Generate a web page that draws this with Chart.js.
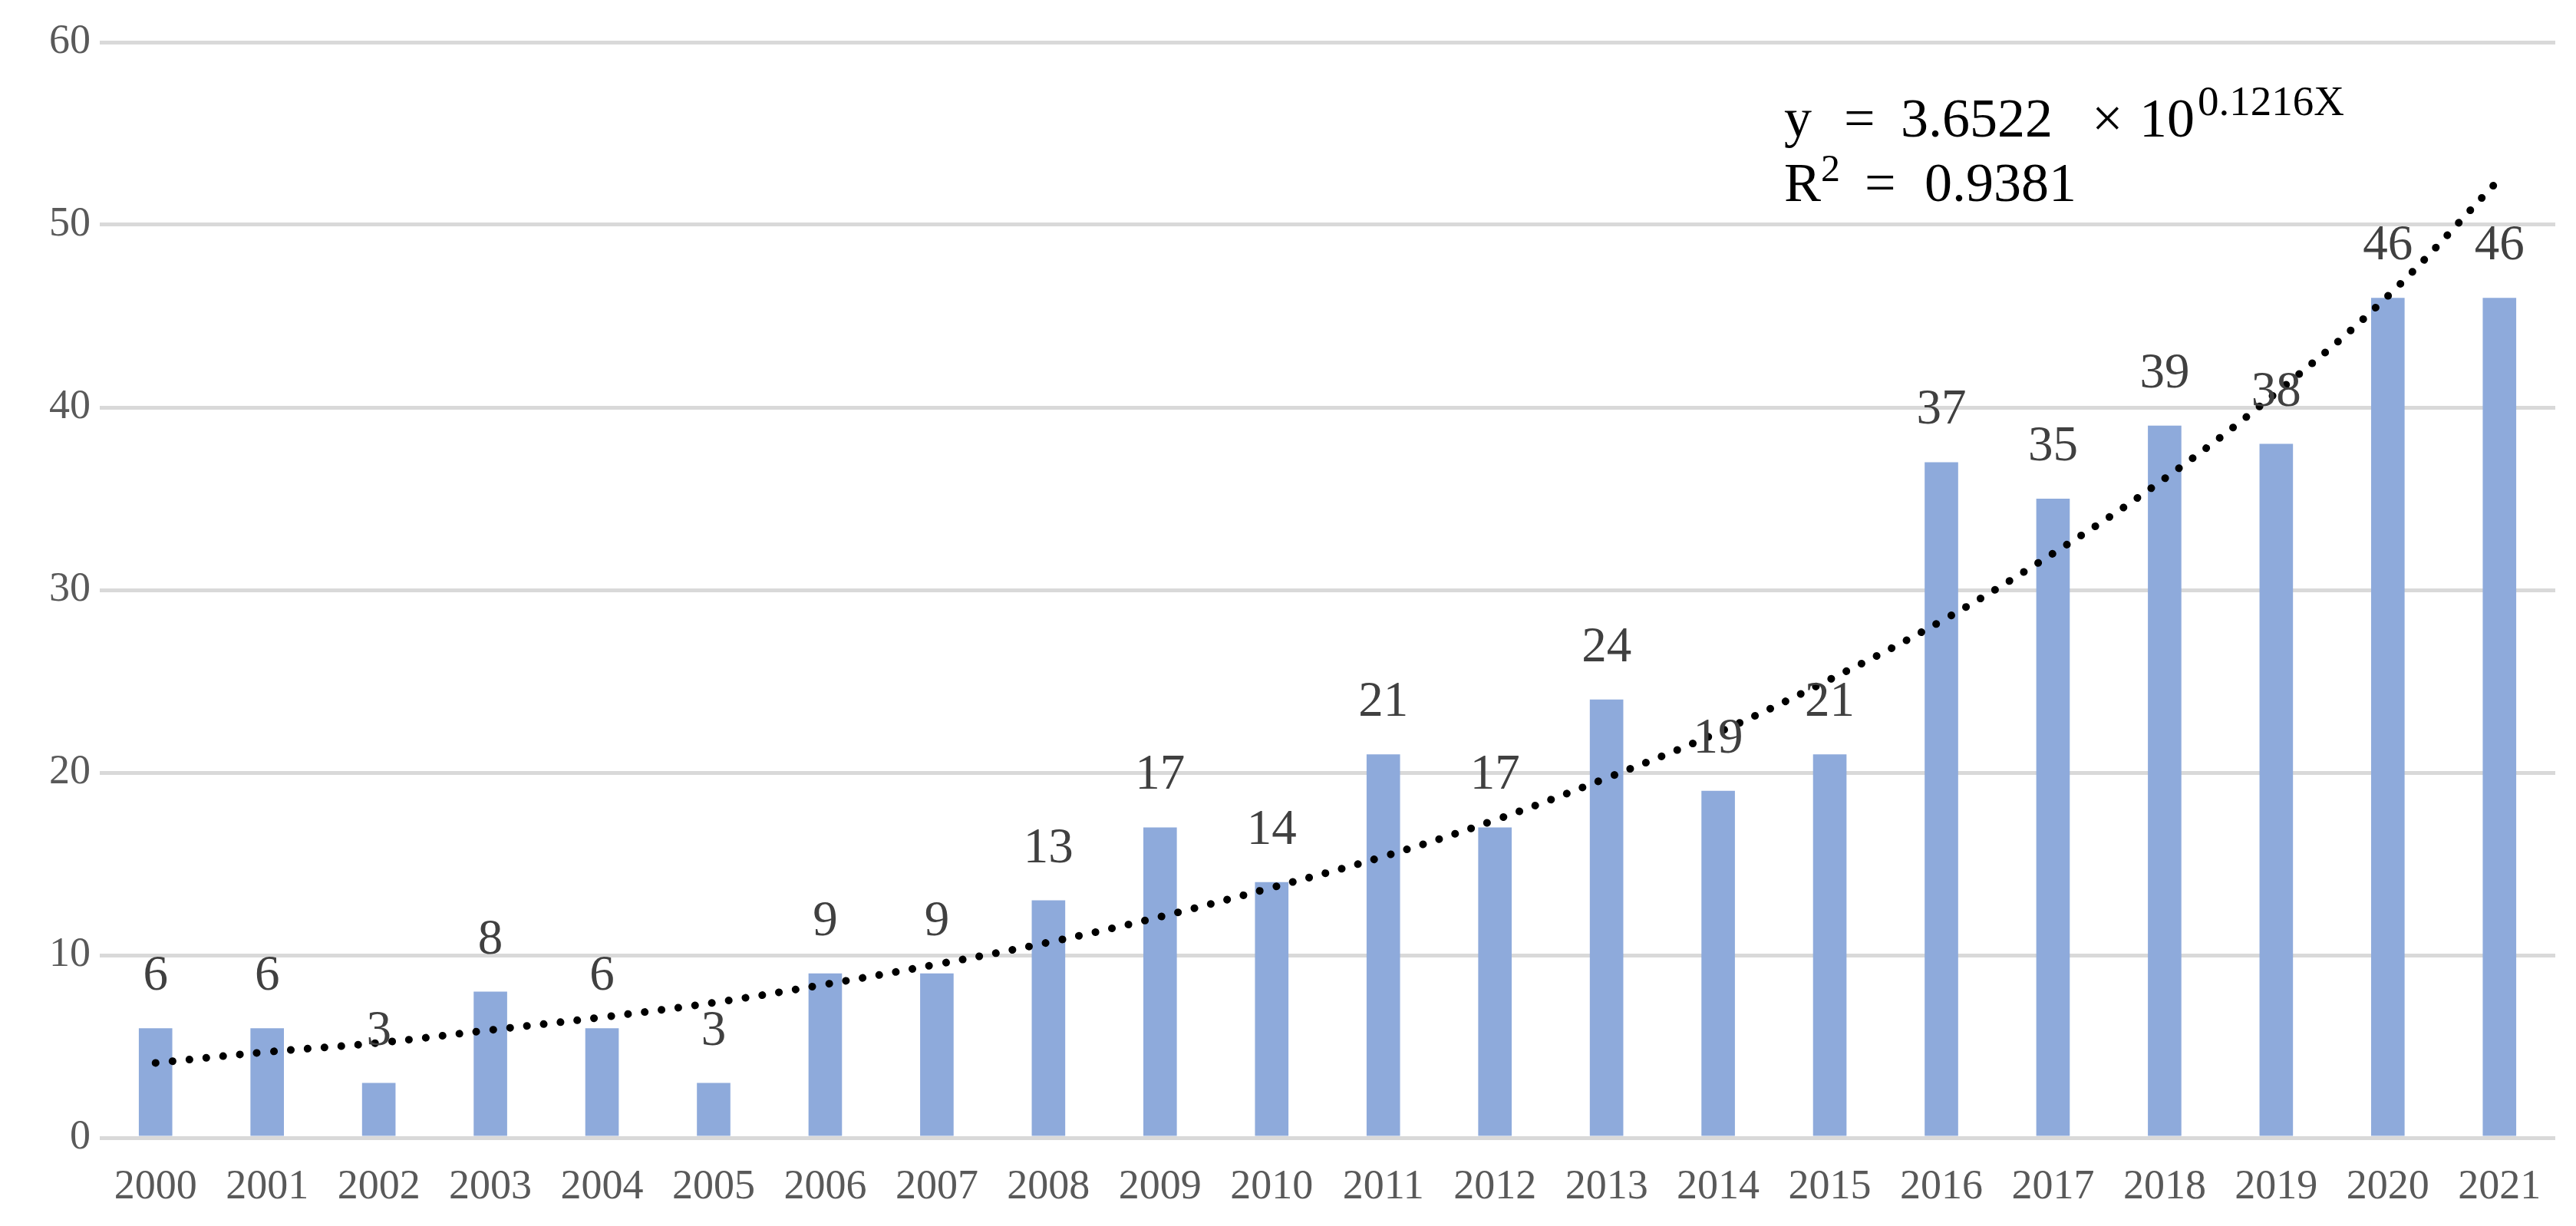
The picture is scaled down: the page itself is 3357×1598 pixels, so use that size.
<!DOCTYPE html>
<html>
<head>
<meta charset="utf-8">
<script src="https://cdn.jsdelivr.net/npm/chart.js@4.4.1/dist/chart.umd.min.js"></script>
<style>
  body { margin: 0; background: #fff; }
  canvas { display: block; }
</style>
</head>
<body>
<canvas id="grafico" width="3357" height="1598" style="width:3357px;height:1598px"></canvas>
<script>
const anios = ["2000", "2001", "2002", "2003", "2004", "2005", "2006", "2007", "2008", "2009", "2010",
  "2011", "2012", "2013", "2014", "2015", "2016", "2017", "2018", "2019", "2020", "2021"];
const cantidades = [6, 6, 3, 8, 6, 3, 9, 9, 13, 17, 14, 21, 17, 24, 19, 21, 37, 35, 39, 38, 46, 46];
// trend line
const tendencia = [4.1, 4.7, 5.2, 5.9, 6.6, 7.4, 8.4, 9.5, 10.7, 12.1, 13.7,
  15.4, 17.4, 19.7, 22.2, 25.1, 28.3, 32.0, 36.1, 40.8, 46.1, 52.5];
const marcasY = [0, 10, 20, 30, 40, 50, 60];

const serif = "'Liberation Serif', 'Times New Roman', serif";

const etiquetas = {
  id: 'etiquetas',
  afterDatasetsDraw(chart) {
    const ctx = chart.ctx;
    const meta = chart.getDatasetMeta(0);
    ctx.save();
    ctx.font = '65px ' + serif;
    ctx.fillStyle = '#404040';
    ctx.textAlign = 'center';
    ctx.textBaseline = 'alphabetic';
    meta.data.forEach((bar, i) => {
      ctx.fillText(cantidades[i], bar.x, bar.y - 50);
    });

    // equation of the trend
    ctx.fillStyle = '#000';
    ctx.textAlign = 'left';
    ctx.font = '72px ' + serif;
    ctx.fillText('y', 2325, 178);
    ctx.fillText('=', 2403, 178);
    ctx.fillText('3.6522', 2477, 178);
    ctx.fillText('\u00d7', 2726, 178);
    ctx.fillText('10', 2788, 178);
    ctx.font = '55px ' + serif;
    ctx.fillText('0.1216X', 2864, 150);
    ctx.font = '72px ' + serif;
    ctx.fillText('R', 2325, 262);
    ctx.fillText('=', 2430, 262);
    ctx.fillText('0.9381', 2508, 262);
    ctx.font = '50px ' + serif;
    ctx.fillText('2', 2373, 236);
    ctx.restore();
  }
};

const ctx = document.getElementById("grafico").getContext("2d");
const grafico = new Chart(ctx, {
  type: "bar",
  data: {
    labels: anios,
    datasets: [
      {
        label: "Cantidad",
        data: cantidades,
        backgroundColor: "#8eaadb",
        categoryPercentage: 1,
        barPercentage: 0.3,
        order: 2,
      },
      {
        type: "line",
        label: "Tendencia",
        data: tendencia,
        borderColor: "#000",
        borderWidth: 10,
        borderDash: [0.1, 22],
        borderCapStyle: "round",
        pointRadius: 0,
        tension: 0.4,
        fill: false,
        order: 1,
      },
    ],
  },
  options: {
    responsive: false,
    devicePixelRatio: 1,
    animation: false,
    layout: { padding: { left: 28, right: 27, top: 55, bottom: 18 } },
    plugins: { legend: { display: false }, tooltip: { enabled: false } },
    scales: {
      x: {
        grid: { display: false, drawTicks: false },
        border: { display: false },
        ticks: { color: "#595959", font: { family: serif, size: 54 }, padding: 32, maxRotation: 0, autoSkip: false },
        afterFit: (axis) => { axis.height = 97; },
      },
      y: {
        min: 0,
        max: 60,
        afterBuildTicks: (axis) => { axis.ticks = marcasY.map(v => ({ value: v })); },
        grid: { color: "#d9d9d9", lineWidth: 5, drawTicks: false },
        border: { display: false },
        ticks: { color: "#595959", font: { family: serif, size: 54, lineHeight: 0.2 }, padding: 12 },
        afterFit: (axis) => { axis.width = 102; },
      },
    },
  },
  plugins: [etiquetas],
});
</script>
</body>
</html>
